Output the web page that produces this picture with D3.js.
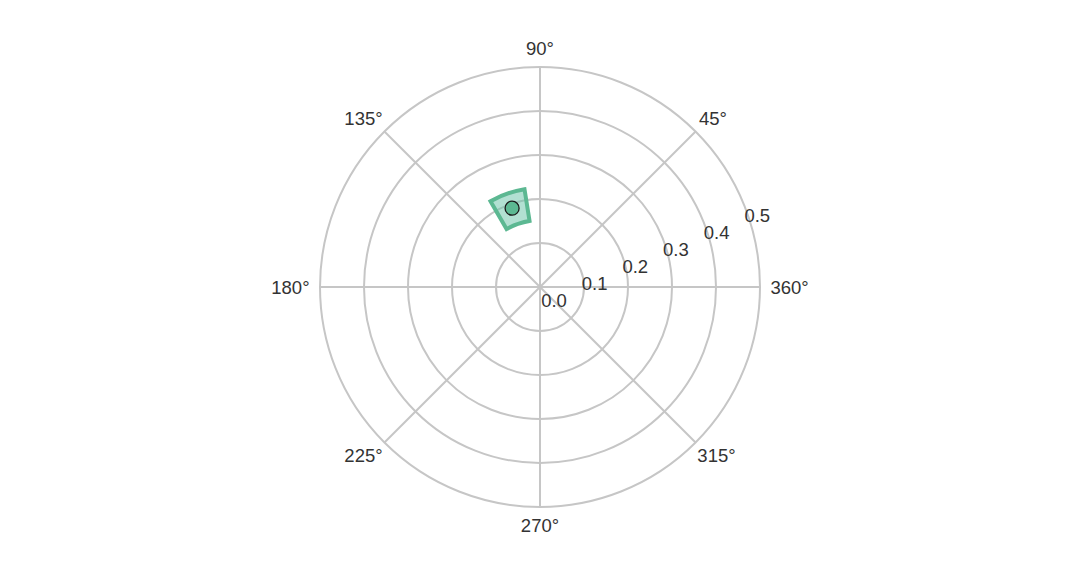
<!DOCTYPE html>
<html>
<head>
<meta charset="utf-8">
<script src="https://cdn.jsdelivr.net/npm/d3@7"></script>
<style>
  body { margin: 0; background: #fff; }
  svg { display: block; font-family: "Liberation Sans", Arial, sans-serif; }
</style>
</head>
<body>
<svg width="1080" height="576"></svg>
<script>
// chart values
const angleTicks = [0, 45, 90, 135, 180, 225, 270, 315];
const angleLabels = ["360°", "45°", "90°", "135°", "180°", "225°", "270°", "315°"];
const radialTicks = [0, 0.1, 0.2, 0.3, 0.4, 0.5];
const radialLabels = ["0.0", "0.1", "0.2", "0.3", "0.4", "0.5"];

// one observation with its spread in angle and radius
const pointTheta = [109.5];
const pointR = [0.19];
const thetaLow = [99];
const thetaHigh = [120];
const rLow = [0.152];
const rHigh = [0.225];

const svg = d3.select("svg");
const cx = 540;
const cy = 287;
const outer = 220;
const textColor = "#333333";
const gridColor = "#c6c6c6";
const fontSize = 18.5;

const rScale = d3.scaleLinear().domain([0, 0.5]).range([0, outer]);
const rad = (deg) => (deg * Math.PI) / 180;
const px = (deg, r) => cx + r * Math.cos(rad(deg));
const py = (deg, r) => cy - r * Math.sin(rad(deg));

const g = svg.append("g");

// rings
g.selectAll("circle.ring")
  .data(radialTicks.filter((d) => d > 0))
  .enter()
  .append("circle")
  .attr("class", "ring")
  .attr("cx", cx)
  .attr("cy", cy)
  .attr("r", (d) => rScale(d))
  .attr("fill", "none")
  .attr("stroke", gridColor)
  .attr("stroke-width", 2);

// spokes
g.selectAll("line.spoke")
  .data(angleTicks)
  .enter()
  .append("line")
  .attr("class", "spoke")
  .attr("x1", cx)
  .attr("y1", cy)
  .attr("x2", (d) => px(d, outer))
  .attr("y2", (d) => py(d, outer))
  .attr("stroke", gridColor)
  .attr("stroke-width", 2);

// angle labels
g.selectAll("text.angle")
  .data(angleTicks)
  .enter()
  .append("text")
  .attr("class", "angle")
  .attr("x", (d, i) => px(d, outer + 10 + angleLabels[i].length * 4.9))
  .attr("y", (d) => py(d, outer + 18.5))
  .attr("dy", "0.36em")
  .attr("text-anchor", "middle")
  .attr("font-size", fontSize)
  .attr("fill", textColor)
  .text((d, i) => angleLabels[i]);

// radial labels along 22.5°
g.selectAll("text.radial")
  .data(radialTicks)
  .enter()
  .append("text")
  .attr("class", "radial")
  .attr("x", (d) => px(22.5, rScale(d)) + 14)
  .attr("y", (d) => py(22.5, rScale(d)) + 13)
  .attr("dy", "0.36em")
  .attr("text-anchor", "middle")
  .attr("font-size", fontSize)
  .attr("fill", textColor)
  .text((d, i) => radialLabels[i]);

// spread wedge
const arc = d3.arc();
const idx = d3.range(pointTheta.length);

g.selectAll("path.wedge")
  .data(idx)
  .enter()
  .append("path")
  .attr("class", "wedge")
  .attr("transform", `translate(${cx}, ${cy})`)
  .attr("d", (i) =>
    arc({
      innerRadius: rScale(rLow[i]),
      outerRadius: rScale(rHigh[i]),
      startAngle: rad(90 - thetaHigh[i]),
      endAngle: rad(90 - thetaLow[i]),
    })
  )
  .attr("fill", "#66c2a5")
  .attr("fill-opacity", 0.5)
  .attr("stroke", "#5cb892")
  .attr("stroke-width", 4)
  .attr("stroke-linejoin", "miter");

// point
g.selectAll("circle.pt")
  .data(idx)
  .enter()
  .append("circle")
  .attr("class", "pt")
  .attr("cx", (i) => px(pointTheta[i], rScale(pointR[i])))
  .attr("cy", (i) => py(pointTheta[i], rScale(pointR[i])))
  .attr("r", 7)
  .attr("fill", "#5cb892")
  .attr("stroke", "#1a1a1a")
  .attr("stroke-width", 1.3);
</script>
</body>
</html>
